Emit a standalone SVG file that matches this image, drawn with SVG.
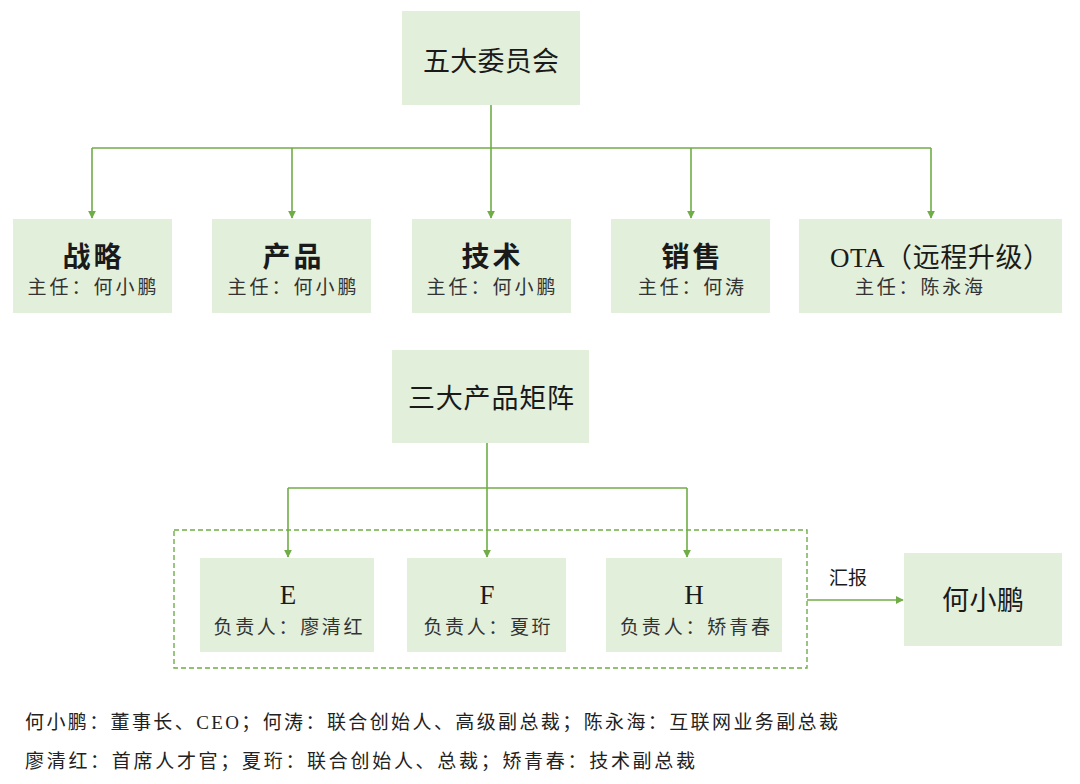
<svg xmlns="http://www.w3.org/2000/svg" width="1080" height="784" viewBox="0 0 1080 784">
<defs>
<style>
.box{fill:#e2efda;}
.t{font-family:"Liberation Serif","Noto Sans CJK SC",serif;fill:#1a1a1a;text-anchor:middle;}
.big{font-size:27px;}
.bold{font-weight:bold;font-size:28px;}
.sub{font-size:19px;fill:#333;}
.ln{stroke:#70ad47;stroke-width:1.6;fill:none;}
.note{font-family:"Liberation Serif","Noto Sans CJK SC",serif;font-size:19px;fill:#222;}
</style>
<marker id="ah" viewBox="0 0 10 10" refX="9" refY="5" markerWidth="8" markerHeight="8" markerUnits="userSpaceOnUse" orient="auto">
<path d="M0,0 L10,5 L0,10 z" fill="#70ad47"/>
</marker>
</defs>
<rect width="1080" height="784" fill="#ffffff"/>
<g id="connectors">
<path class="ln" d="M491,105 V148"/>
<path class="ln" d="M92,148 H931"/>
<path class="ln" d="M92,148 V218" marker-end="url(#ah)"/>
<path class="ln" d="M292,148 V218" marker-end="url(#ah)"/>
<path class="ln" d="M491,148 V218" marker-end="url(#ah)"/>
<path class="ln" d="M691,148 V218" marker-end="url(#ah)"/>
<path class="ln" d="M931,148 V218" marker-end="url(#ah)"/>
<path class="ln" d="M487,443 V488"/>
<path class="ln" d="M288,488 H687"/>
<path class="ln" d="M288,488 V557" marker-end="url(#ah)"/>
<path class="ln" d="M487,488 V557" marker-end="url(#ah)"/>
<path class="ln" d="M687,488 V557" marker-end="url(#ah)"/>
<path class="ln" d="M807,600 H903" marker-end="url(#ah)"/>
<text class="t" x="848" y="585" style="font-size:19px">汇报</text>
</g>
<g id="group-matrix">
<rect x="174" y="530" width="633" height="138" fill="none" stroke="#70ad47" stroke-width="1.4" stroke-dasharray="5,3"/>
</g>
<g id="n-committee">
<rect class="box" x="402" y="11" width="178" height="94"/>
<text class="t big" x="491" y="71" textLength="136" lengthAdjust="spacing">五大委员会</text>
</g>
<g id="n-strategy">
<rect class="box" x="13" y="219" width="159" height="94"/>
<text class="t bold" x="92" y="267" textLength="59" lengthAdjust="spacing">战略</text>
<text class="t sub" x="92" y="294" textLength="129" lengthAdjust="spacing">主任：何小鹏</text>
</g>
<g id="n-product">
<rect class="box" x="212" y="219" width="159" height="94"/>
<text class="t bold" x="292" y="267" textLength="59" lengthAdjust="spacing">产品</text>
<text class="t sub" x="292" y="294" textLength="129" lengthAdjust="spacing">主任：何小鹏</text>
</g>
<g id="n-tech">
<rect class="box" x="412" y="219" width="159" height="94"/>
<text class="t bold" x="491" y="267" textLength="59" lengthAdjust="spacing">技术</text>
<text class="t sub" x="491" y="294" textLength="129" lengthAdjust="spacing">主任：何小鹏</text>
</g>
<g id="n-sales">
<rect class="box" x="611" y="219" width="159" height="94"/>
<text class="t bold" x="691" y="267" textLength="59" lengthAdjust="spacing">销售</text>
<text class="t sub" x="691" y="294" textLength="106" lengthAdjust="spacing">主任：何涛</text>
</g>
<g id="n-ota">
<rect class="box" x="799" y="219" width="263" height="94"/>
<text class="t big" x="940" y="267" textLength="220" lengthAdjust="spacing">OTA（远程升级）</text>
<text class="t sub" x="919" y="294" textLength="128" lengthAdjust="spacing">主任：陈永海</text>
</g>
<g id="n-matrix">
<rect class="box" x="392" y="350" width="197" height="93"/>
<text class="t big" x="491" y="408" textLength="166" lengthAdjust="spacing">三大产品矩阵</text>
</g>
<g id="n-e">
<rect class="box" x="200" y="558" width="174" height="94"/>
<text class="t big" x="288" y="604">E</text>
<text class="t sub" x="288" y="634" textLength="149" lengthAdjust="spacing">负责人：廖清红</text>
</g>
<g id="n-f">
<rect class="box" x="407" y="558" width="159" height="94"/>
<text class="t big" x="487" y="604">F</text>
<text class="t sub" x="487" y="634" textLength="127" lengthAdjust="spacing">负责人：夏珩</text>
</g>
<g id="n-h">
<rect class="box" x="606" y="558" width="176" height="94"/>
<text class="t big" x="694" y="604">H</text>
<text class="t sub" x="695" y="634" textLength="150" lengthAdjust="spacing">负责人：矫青春</text>
</g>
<g id="n-hxp">
<rect class="box" x="904" y="553" width="158" height="93"/>
<text class="t big" x="983" y="610" textLength="82" lengthAdjust="spacing">何小鹏</text>
</g>
<g id="notes">
<text class="note" x="25" y="729" textLength="813" lengthAdjust="spacing">何小鹏：董事长、CEO；何涛：联合创始人、高级副总裁；陈永海：互联网业务副总裁</text>
<text class="note" x="25" y="768" textLength="670" lengthAdjust="spacing">廖清红：首席人才官；夏珩：联合创始人、总裁；矫青春：技术副总裁</text>
</g>
</svg>
